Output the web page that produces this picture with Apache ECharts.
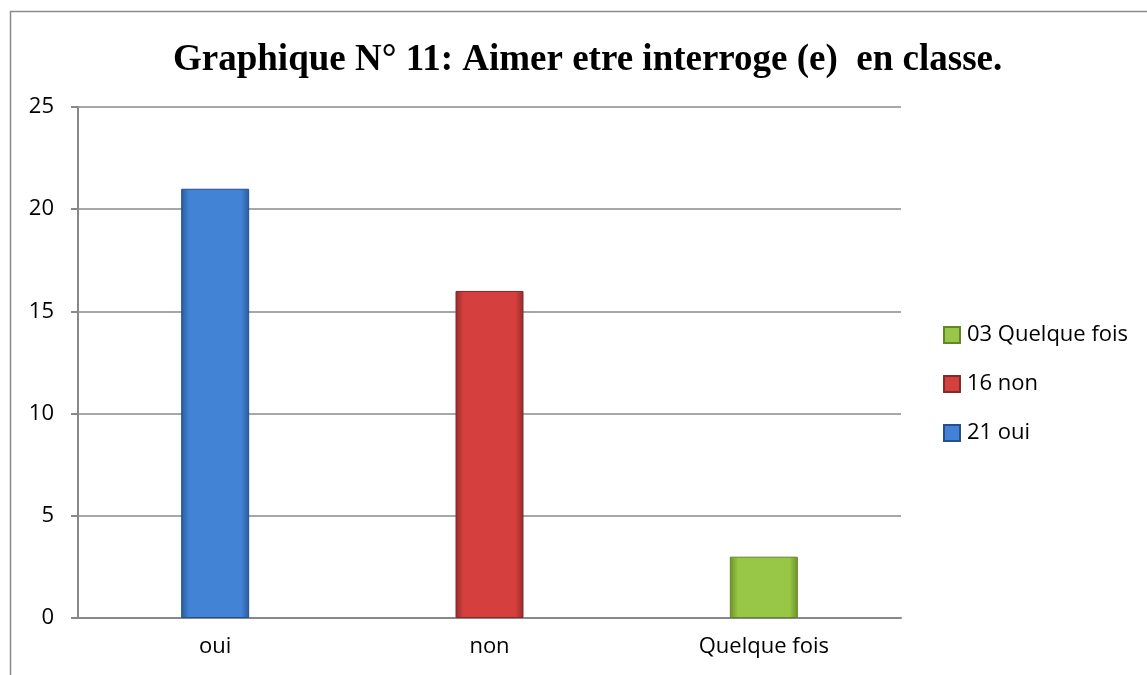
<!DOCTYPE html>
<html>
<head>
<meta charset="utf-8">
<script src="https://cdn.jsdelivr.net/npm/echarts@6/dist/echarts.min.js"></script>
<style>
html, body { margin: 0; padding: 0; background: #fff; }
#canvasDiv { width: 1147px; height: 675px; }
</style>
</head>
<body>
<div id="canvasDiv"></div>
<script>
var TITLE_ = 'Graphique N° 11: Aimer etre interroge (e)  en classe.';
var categories = ['oui', 'non', 'Quelque fois'];
var values = [21, 16, 3];
var seriesNames = ['21 oui', '16 non', '03 Quelque fois'];
var legendOrder = ['03 Quelque fois', '16 non', '21 oui'];
var yTicks = [0, 5, 10, 15, 20, 25];

// couleurs des barres : bord, milieu
var colors = [
	{ edge: '#2b5b9c', mid: '#4283d6', border: '#24518c' },
	{ edge: '#962b2c', mid: '#d5403f', border: '#85292a' },
	{ edge: '#6c9128', mid: '#98c646', border: '#64862a' }
];

function barColor(c) {
	return new echarts.graphic.LinearGradient(0, 0, 1, 0, [
		{ offset: 0, color: c.edge },
		{ offset: 0.12, color: c.mid },
		{ offset: 0.88, color: c.mid },
		{ offset: 1, color: c.edge }
	]);
}

var series = [];
for (var i = 0; i < categories.length; i++) {
	var d = [];
	for (var j = 0; j < categories.length; j++) {
		d.push(i == j ? values[i] : '-');
	}
	series.push({
		name: seriesNames[i],
		type: 'bar',
		stack: 'total',
		barWidth: 68,
		data: d,
		itemStyle: {
			color: barColor(colors[i]),
			borderColor: colors[i].border,
			borderWidth: 1
		}
	});
}

var labelFont = {
	fontFamily: 'Open Sans',
	fontSize: 22,
	color: '#000'
};

var option = {
	animation: false,
	backgroundColor: '#ffffff',
	title: {
		text: TITLE_,
		left: 168,
		top: 37,
		textStyle: {
			fontFamily: 'Liberation Serif',
			fontWeight: 'bold',
			fontSize: 37,
			color: '#000'
		}
	},
	graphic: [{
		type: 'rect',
		shape: { x: 10.5, y: 11.5, width: 1300, height: 800 },
		style: { fill: 'none', stroke: '#8a8a8a', lineWidth: 1.5 },
		silent: true
	}],
	legend: {
		orient: 'vertical',
		left: 943,
		top: 324,
		padding: 0,
		itemWidth: 16,
		itemHeight: 16,
		itemGap: 27,
		icon: 'rect',
		data: legendOrder,
		textStyle: {
			fontFamily: 'Open Sans',
			fontSize: 22,
			color: '#000',
			padding: [0, 0, 0, 2]
		}
	},
	grid: {
		left: 78,
		right: 246,
		top: 107,
		bottom: 57,
		containLabel: false
	},
	xAxis: {
		type: 'category',
		data: categories,
		axisLine: { lineStyle: { color: '#888', width: 2 } },
		axisTick: { show: false },
		axisLabel: Object.assign({ margin: 18 }, labelFont)
	},
	yAxis: {
		type: 'value',
		min: yTicks[0],
		max: yTicks[yTicks.length - 1],
		interval: 5,
		axisLine: { show: true, lineStyle: { color: '#888', width: 2 } },
		axisTick: { show: true, inside: false, length: 7, lineStyle: { color: '#888', width: 2 } },
		splitLine: { lineStyle: { color: '#8a8a8a', width: 1.5 } },
		axisLabel: Object.assign({ margin: 24 }, labelFont)
	},
	series: series
};

var chart = echarts.init(document.getElementById('canvasDiv'));
chart.setOption(option);
</script>
</body>
</html>
